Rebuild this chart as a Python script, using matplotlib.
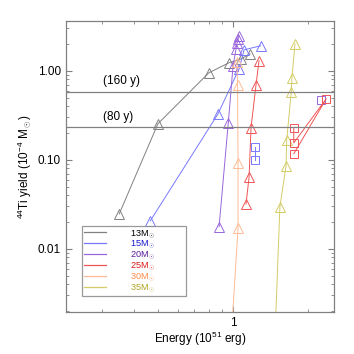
import numpy as np
import matplotlib
matplotlib.use("Agg")
import matplotlib.pyplot as plt

plt.rcParams["font.family"] = ["Liberation Sans", "DejaVu Sans"]
plt.rcParams["mathtext.fontset"] = "custom"
plt.rcParams["mathtext.rm"] = "Liberation Sans"
plt.rcParams["mathtext.it"] = "Liberation Sans:italic"

# ── data (energy in 1e51 erg, 44Ti yield in 1e-4 Msun) ─────────────────────────
labels = ["13M$_\\odot$", "15M$_\\odot$", "20M$_\\odot$", "25M$_\\odot$", "30M$_\\odot$", "35M$_\\odot$"]
e13 = [0.35, 0.50, 0.80, 0.963, 1.077, 1.17]
y13 = [0.0247, 0.254, 0.95, 1.23, 1.36, 1.55]
e15 = [0.466, 0.869, 1.057, 1.107, 1.29]
y15 = [0.0206, 0.326, 1.05, 1.72, 1.91]
e20 = [0.879, 0.957, 1.0, 1.028, 1.038, 1.047, 1.057]
y20 = [0.0178, 0.262, 1.14, 1.77, 2.06, 2.29, 2.47]
e25 = [1.127, 1.159, 1.18, 1.236, 1.27]
y25 = [0.032, 0.064, 0.229, 0.70, 1.30]
e30 = [0.982, 1.047, 1.047, 1.042, 1.037]
y30 = [0.00095, 0.0172, 0.0925, 0.70, 1.26]
e35 = [1.47, 1.54, 1.63, 1.64, 1.71, 1.72, 1.77]
y35 = [0.00095, 0.0297, 0.0857, 0.168, 0.58, 0.83, 2.01]

# square-marker runs
e15sq = [1.22, 1.22]
y15sq = [0.14, 0.10]
e20sq = [2.25]
y20sq = [0.47]
e25sq = [1.75, 1.75, 2.36, 1.75]
y25sq = [0.229, 0.155, 0.485, 0.117]

# reference levels (age of remnant)
ref_y = [0.576, 0.233]
ref_lbl = ["(160 y)", "(80 y)"]
ref_txt_y = [0.76, 0.30]

LINE_C = ["#808080", "#7878ff", "#9a66dd", "#f05555", "#ffbb95", "#d4cc66"]
TEXT_C = ["#000000", "#1a1acc", "#5a1a9a", "#dd1a1a", "#ff8a4a", "#b0a424"]

fig = plt.figure(figsize=(3.54, 3.54), dpi=100)
ax = fig.add_axes([0.186, 0.119, 0.758, 0.823])
ax.set_xscale("log")
ax.set_yscale("log")

series = [(e13, y13), (e15, y15), (e20, y20), (e25, y25), (e30, y30), (e35, y35)]
for (e, y), c, lab in zip(series, LINE_C, labels):
    ax.plot(e, y, color=c, lw=0.7, marker="^", ms=6.5, mfc="none", mec=c, mew=0.7, label=lab)

for (e, y), c in zip([(e15sq, y15sq), (e20sq, y20sq), (e25sq, y25sq)], LINE_C[1:4]):
    ax.plot(e, y, color=c, lw=0.7, marker="s", ms=6, mfc="none", mec=c, mew=0.7)

for yv, t, ty in zip(ref_y, ref_lbl, ref_txt_y):
    ax.axhline(yv, color="#808080", lw=0.9)
    ax.text(0.302, ty, t, fontsize=8.5, va="center", ha="left")

ax.set_xlim(0.214, 2.54)
ax.set_ylim(0.00196, 3.67)
ax.set_xticks([1])
ax.set_xticklabels(["1"])
ax.set_xticks([0.3, 0.4, 0.5, 0.6, 0.7, 0.8, 0.9, 2], minor=True)
ax.xaxis.set_minor_formatter(matplotlib.ticker.NullFormatter())
ax.set_yticks([0.01, 0.1, 1])
ax.set_yticklabels(["0.01", "0.10", "1.00"])
ax.tick_params(which="both", direction="in", top=True, right=True, color="#808080", labelsize=8.5)
ax.tick_params(which="major", length=4, width=0.8)
ax.tick_params(which="minor", length=2.5, width=0.6)
for s in ax.spines.values():
    s.set_color("#808080")
    s.set_linewidth(0.9)

ax.set_xlabel("Energy (10$^{51}$ erg)", fontsize=8.5, labelpad=1)
ax.set_ylabel("$^{44}$Ti yield (10$^{-4}$ M$_\\odot$)", fontsize=8.5, labelpad=3)

leg = ax.legend(loc="lower left", bbox_to_anchor=(0.061, 0.055, 0.388, 0.23), mode="expand",
                fontsize=6.6, handlelength=2.4, handletextpad=2.6, labelspacing=-0.12,
                borderpad=0.2, borderaxespad=0, fancybox=False, frameon=True,
                labelcolor=TEXT_C)
leg.get_frame().set_edgecolor("#808080")
leg.get_frame().set_linewidth(0.9)
for h in leg.get_lines():
    h.set_marker("")
    h.set_linewidth(0.9)

fig.savefig("out.png", dpi=100)
